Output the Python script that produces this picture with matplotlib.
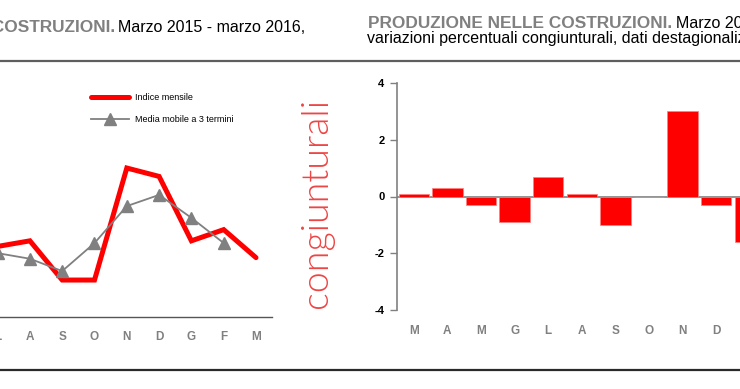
import numpy as np
import matplotlib
matplotlib.use('Agg')
import matplotlib.pyplot as plt
from matplotlib.lines import Line2D

mesi = ['M', 'A', 'M', 'G', 'L', 'A', 'S', 'O', 'N', 'D', 'G', 'F', 'M']
indice_mensile = [68.6, 68.8, 68.6, 68.0, 68.5, 68.6, 67.9, 67.9, 69.9, 69.75, 68.6, 68.8, 68.3]
media_mobile = [np.nan, 68.67, 68.47, 68.37, 68.38, 68.28, 68.06, 68.56, 69.22, 69.42, 69.01, 68.56, np.nan]
variazioni = [0.1, 0.3, -0.3, -0.9, 0.7, 0.1, -1.0, 0.0, 3.0, -0.3, -1.6, 0.3, -0.7]

RED = '#ff0000'
GREY = '#808080'

plt.rcParams['font.family'] = ['Liberation Sans', 'DejaVu Sans']
plt.rcParams['axes.unicode_minus'] = False

W, H = 740, 389
fig = plt.figure(figsize=(W / 100, H / 100), dpi=100)
renderer = fig.canvas.get_renderer()

# linee orizzontali della pagina
fig.add_artist(Line2D([0, 1], [1 - 61 / H] * 2, color='#5e5e5e', lw=1.6))
fig.add_artist(Line2D([0, 1], [1 - 370 / H] * 2, color='#2a2a2a', lw=1.6))

# titoli (parte grigia in grassetto + parte nera)
TB, TN = 12.4, 11.5
fig.text(115 / W, 1 - 27 / H, 'PRODUZIONE NELLE COSTRUZIONI.', ha='right', va='center',
         fontsize=TB, fontweight='bold', color=GREY)
fig.text(118 / W, 1 - 27 / H, 'Marzo 2015 - marzo 2016,', ha='left', va='center',
         fontsize=TN, color='black')
t2 = fig.text(368 / W, 1 - 23 / H, 'PRODUZIONE NELLE COSTRUZIONI.', ha='left', va='center',
              fontsize=TB, fontweight='bold', color=GREY)
x_fine = t2.get_window_extent(renderer).x1
fig.text((x_fine + 4) / W, 1 - 23 / H, 'Marzo 2015 - marzo 2016,', ha='left', va='center',
         fontsize=TN, color='black')
fig.text(367 / W, 1 - 38 / H, 'variazioni percentuali congiunturali, dati destagionalizzati',
         ha='left', va='center', fontsize=TN, color='black')

# testo verticale
fig.text(317 / W, 1 - 203 / H, 'congiunturali', rotation=90, ha='center', va='center',
         fontsize=27, family='Lato', fontweight=300, color='#ee4444')

# grafico a sinistra: indice
x = np.arange(len(mesi))
ax1 = fig.add_axes([-147.75 / W, 1 - 317 / H, 419.9 / W, 247 / H])
ax1.plot(x, indice_mensile, color=RED, lw=3.6, solid_joinstyle='miter',
         solid_capstyle='round', label='Indice mensile')
ax1.plot(x, media_mobile, color=GREY, lw=1.3, marker='^', markersize=9,
         label='Media mobile a 3 termini')
ax1.set_xlim(-0.5, 12.5)
ax1.set_ylim(67.24, 71.65)
ax1.set_xticks(x)
ax1.set_xticklabels(mesi, fontsize=8.5, fontweight='bold', color=GREY)
ax1.tick_params(axis='x', length=0, pad=10)
ax1.set_yticks([])
for s in ['top', 'right', 'left']:
    ax1.spines[s].set_visible(False)
ax1.spines['bottom'].set_color('#555555')
ax1.spines['bottom'].set_linewidth(1.0)
ax1.patch.set_visible(False)
ax1.legend(loc='upper left', bbox_to_anchor=(83 / W, 1 - 85 / H), bbox_transform=fig.transFigure,
           frameon=False, handlelength=4.2, handletextpad=0.7, labelspacing=1.4,
           prop={'size': 6.5})

# grafico a destra: variazioni congiunturali
ax2 = fig.add_axes([397 / W, 1 - 310 / H, 13 * 33.6 / W, 227 / H])
ax2.axhline(0, color=GREY, lw=1.2, zorder=0.5)
ax2.bar(x, variazioni, width=0.9, color=RED, edgecolor='#ff8080', lw=0.5, zorder=2)
ax2.set_xlim(-0.5, 12.5)
ax2.set_ylim(-4, 4)
ax2.set_yticks([-4, -2, 0, 2, 4])
ax2.set_xticks(x)
ax2.set_xticklabels(mesi, fontsize=8.5, fontweight='bold', color=GREY)
ax2.tick_params(axis='x', length=0, pad=11)
ax2.tick_params(axis='y', length=5, width=1, color=GREY, pad=4, labelsize=8,
                labelcolor='black')
for lab in ax2.get_yticklabels():
    lab.set_fontweight('bold')
for s in ['top', 'right', 'bottom']:
    ax2.spines[s].set_visible(False)
ax2.spines['left'].set_color(GREY)
ax2.spines['left'].set_linewidth(1.2)
ax2.patch.set_visible(False)

fig.savefig('out.png', dpi=100)
